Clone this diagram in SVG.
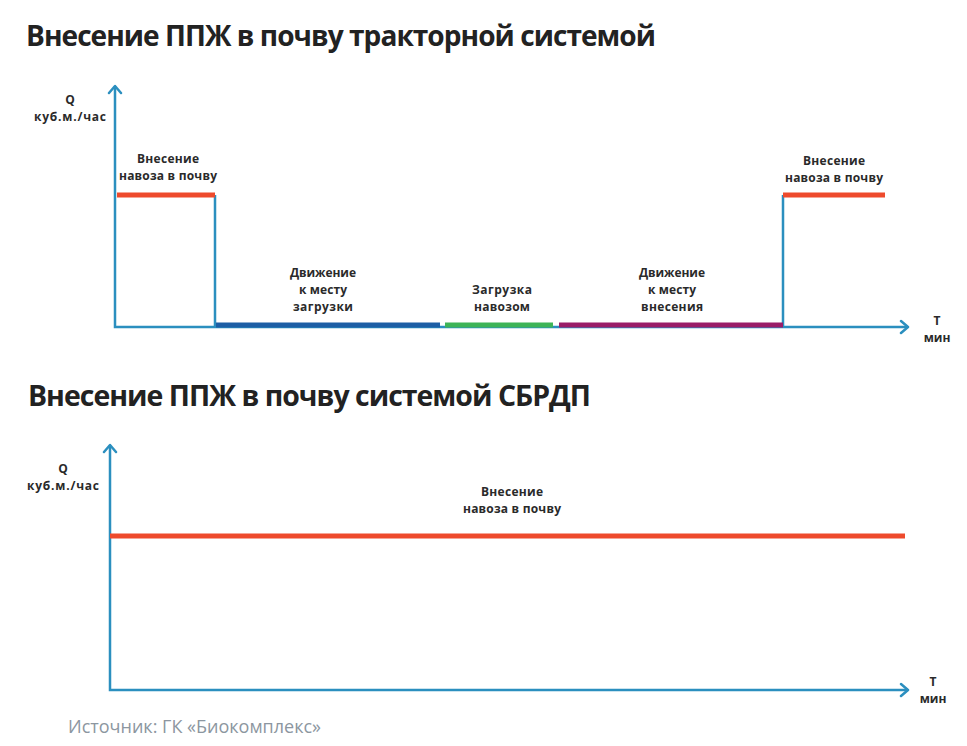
<svg xmlns="http://www.w3.org/2000/svg" width="967" height="746" viewBox="0 0 967 746">
<style>
.t{font-family:"Open Sans","Liberation Sans",sans-serif;font-weight:bold;fill:#222;font-size:29px;letter-spacing:-1px}
.l{font-family:"Open Sans","Liberation Sans",sans-serif;font-weight:bold;fill:#2a2a2a;font-size:12px;text-anchor:middle}
.ax{stroke:#2b8fbf;stroke-width:2.5;fill:none}
.ah{stroke:#2b8fbf;stroke-width:2.5;fill:none;stroke-linecap:round;stroke-linejoin:round}
.red{stroke:#ee4a2c;stroke-width:5}
</style>
<rect width="967" height="746" fill="#fff"/>
<text class="t" x="26" y="46" textLength="629" lengthAdjust="spacingAndGlyphs">Внесение ППЖ в почву тракторной системой</text>
<text class="t" x="28" y="406" textLength="562" lengthAdjust="spacingAndGlyphs">Внесение ППЖ в почву системой СБРДП</text>
<g id="connectors">
<path class="ax" d="M115 86V327H908"/>
<path class="ah" d="M109 93L115 86L121 93M901 321L908 327L901 333"/>
<path class="ax" d="M215 195V327M783 195V327"/>
<path class="ax" d="M110 445V690H908"/>
<path class="ah" d="M104 452L110 445L116 452M901 684L908 690L901 696"/>
</g>
<g id="bars">
<line class="red" x1="117" y1="195" x2="215" y2="195"/>
<line stroke="#1d5ea5" stroke-width="5" x1="216" y1="325" x2="440" y2="325"/>
<line stroke="#3db457" stroke-width="5" x1="445" y1="325" x2="553" y2="325"/>
<line stroke="#9a1d68" stroke-width="5" x1="559" y1="325" x2="783" y2="325"/>
<line class="red" x1="783" y1="195" x2="885" y2="195"/>
<line class="red" x1="110" y1="536" x2="905" y2="536"/>
</g>
<g id="labels">
<text class="l" x="70" y="104" textLength="10">Q</text><text class="l" x="70" y="121" textLength="72">куб.м./час</text>
<text class="l" x="168" y="163" textLength="62">Внесение</text><text class="l" x="168" y="180" textLength="98">навоза в почву</text>
<text class="l" x="323" y="277" textLength="66">Движение</text><text class="l" x="323" y="294" textLength="48">к месту</text><text class="l" x="323" y="311" textLength="60">загрузки</text>
<text class="l" x="502" y="294" textLength="60">Загрузка</text><text class="l" x="502" y="311" textLength="56">навозом</text>
<text class="l" x="672" y="277" textLength="66">Движение</text><text class="l" x="672" y="294" textLength="48">к месту</text><text class="l" x="672" y="311" textLength="62">внесения</text>
<text class="l" x="834" y="165" textLength="62">Внесение</text><text class="l" x="834" y="182" textLength="98">навоза в почву</text>
<text class="l" x="937" y="325">Т</text><text class="l" x="937" y="342">мин</text>
<text class="l" x="63" y="473" textLength="10">Q</text><text class="l" x="63" y="490" textLength="72">куб.м./час</text>
<text class="l" x="512" y="496" textLength="62">Внесение</text><text class="l" x="512" y="513" textLength="98">навоза в почву</text>
<text class="l" x="933" y="686">Т</text><text class="l" x="933" y="703">мин</text>
</g>
<text x="68" y="733" style="font-family:'Open Sans','Liberation Sans',sans-serif;font-size:18px;fill:#8c96a0">Источник: ГК «Биокомплекс»</text>
</svg>
